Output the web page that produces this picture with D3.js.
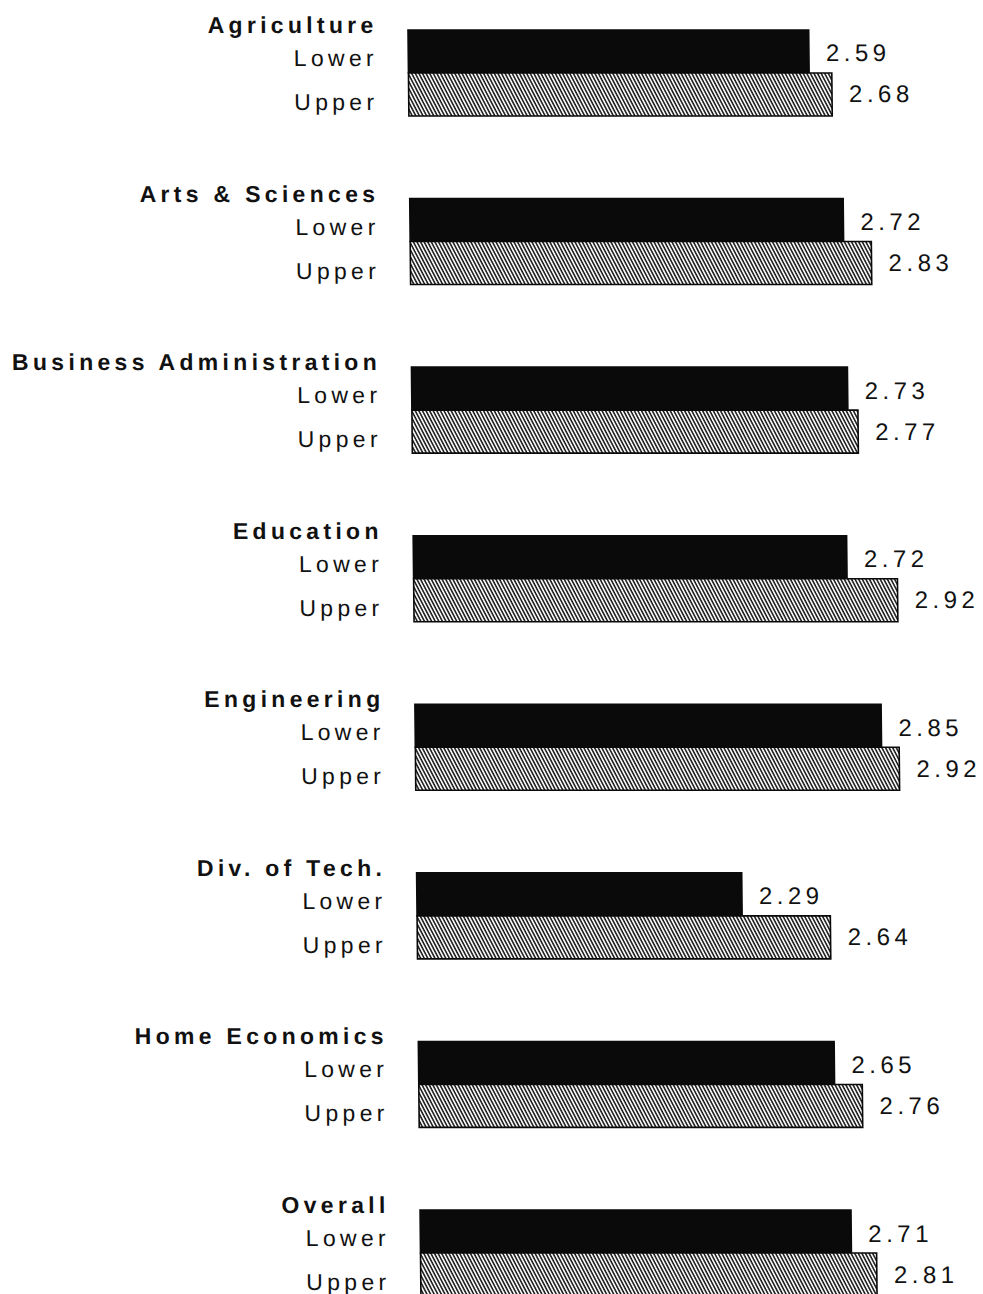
<!DOCTYPE html>
<html>
<head>
<meta charset="utf-8">
<script src="https://cdn.jsdelivr.net/npm/d3@7"></script>
<style>
  html, body { margin: 0; padding: 0; background: #fff; }
  svg { display: block; }
  text { font-family: "Liberation Sans", Arial, Helvetica, sans-serif; fill: #111; }
</style>
</head>
<body>
<svg id="chart" width="983" height="1294"></svg>
<script>
const categories = ["Agriculture", "Arts & Sciences", "Business Administration", "Education",
  "Engineering", "Div. of Tech.", "Home Economics", "Overall"];
const seriesNames = ["Lower", "Upper"];
const lowerValues = [2.59, 2.72, 2.73, 2.72, 2.85, 2.29, 2.65, 2.71];
const upperValues = [2.68, 2.83, 2.77, 2.92, 2.92, 2.64, 2.76, 2.81];

const svg = d3.select("#chart");

const defs = svg.append("defs");
const pat = defs.append("pattern")
  .attr("id", "hatch")
  .attr("patternUnits", "userSpaceOnUse")
  .attr("width", 3.2).attr("height", 10)
  .attr("patternTransform", "rotate(-27)");
pat.append("rect").attr("width", 3.2).attr("height", 10).attr("fill", "#fff");
pat.append("line")
  .attr("x1", 0.9).attr("y1", 0).attr("x2", 0.9).attr("y2", 10)
  .attr("stroke", "#151515").attr("stroke-width", 1.55);

const left = 407.7;
const x = d3.scaleLinear().domain([1, 3]).range([left, left + 2 * 252]);
const y = d3.scaleBand().domain(categories).range([30, 1296]).paddingInner(0.49).paddingOuter(0);
const ySub = d3.scaleBand().domain(seriesNames).range([0, y.bandwidth()]);

// slight scan skew: content drifts right going down the page
const g = svg.append("g").attr("transform", "skewX(0.585)");

const data = categories.map((c, i) => ({ cat: c, vals: [
  { s: "Lower", v: lowerValues[i] }, { s: "Upper", v: upperValues[i] } ] }));

const labelRight = 373;
const groups = g.selectAll("g.cat").data(data).join("g")
  .attr("class", "cat")
  .attr("transform", d => `translate(0,${y(d.cat)})`);

groups.append("text")
  .attr("x", labelRight + 4.3)
  .attr("y", 3)
  .attr("text-anchor", "end")
  .style("font-size", "23px").style("font-weight", "bold").style("letter-spacing", "4.3px")
  .text(d => d.cat);

groups.selectAll("text.ser").data(d => d.vals).join("text")
  .attr("class", "ser")
  .attr("x", labelRight + 4.3)
  .attr("y", d => d.s === "Lower" ? 36 : 80)
  .attr("text-anchor", "end")
  .style("font-size", "23px").style("letter-spacing", "4.3px")
  .text(d => d.s);

groups.selectAll("rect.bar").data(d => d.vals).join("rect")
  .attr("class", "bar")
  .attr("x", x(1))
  .attr("y", d => ySub(d.s))
  .attr("width", d => x(d.v) - x(1))
  .attr("height", ySub.bandwidth())
  .attr("fill", d => d.s === "Lower" ? "#0a0a0a" : "url(#hatch)")
  .attr("stroke", "#0a0a0a")
  .attr("stroke-width", 1.6);

groups.selectAll("text.val").data(d => d.vals).join("text")
  .attr("class", "val")
  .attr("x", d => x(d.v) + 17)
  .attr("y", d => d.s === "Lower" ? 31.5 : 72.5)
  .style("font-size", "24px").style("letter-spacing", "4.5px")
  .text(d => d3.format(".2f")(d.v));
</script>
</body>
</html>
